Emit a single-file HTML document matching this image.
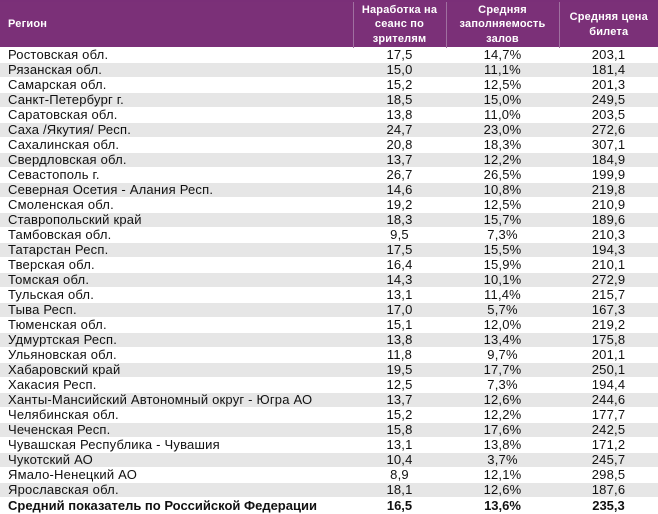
<!DOCTYPE html>
<html><head><meta charset="utf-8"><style>
html,body{margin:0;padding:0;background:#fff;width:658px;height:513px;overflow:hidden}
body{font-family:"Liberation Sans","DejaVu Sans",sans-serif;font-size:13px;letter-spacing:0.2px;color:#111}
.top{position:absolute;left:0;top:0;width:658px;height:2px;background:#7a2f78}
table{position:absolute;left:0;top:2px;width:658px;border-collapse:collapse;table-layout:fixed}
th{background:#7b3078;color:#fff;font-weight:bold;font-size:11px;letter-spacing:0.2px;line-height:14.5px;height:45px;padding:0;border-left:1px solid #a070a0;text-align:center}
th:first-child{text-align:left;padding-left:8px;border-left:none}
td{height:14px;line-height:14px;padding:0;text-align:center;border-top:1px solid #fff;overflow:hidden}
td:first-child{text-align:left;padding-left:8px;white-space:nowrap}
tr:nth-child(even) td{background:#e6e6e6}
tr.last td{font-weight:bold;background:#fff;height:16px;letter-spacing:0}
</style></head><body><div class="top"></div>
<table>
<colgroup><col style="width:353px"><col style="width:93px"><col style="width:113px"><col style="width:99px"></colgroup>
<thead><tr><th>Регион</th><th>Наработка на<br>сеанс по<br>зрителям</th><th>Средняя<br>заполняемость<br>залов</th><th>Средняя цена<br>билета</th></tr></thead>
<tbody>
<tr><td>Ростовская обл.</td><td>17,5</td><td>14,7%</td><td>203,1</td></tr>
<tr><td>Рязанская обл.</td><td>15,0</td><td>11,1%</td><td>181,4</td></tr>
<tr><td>Самарская обл.</td><td>15,2</td><td>12,5%</td><td>201,3</td></tr>
<tr><td>Санкт-Петербург г.</td><td>18,5</td><td>15,0%</td><td>249,5</td></tr>
<tr><td>Саратовская обл.</td><td>13,8</td><td>11,0%</td><td>203,5</td></tr>
<tr><td>Саха /Якутия/ Респ.</td><td>24,7</td><td>23,0%</td><td>272,6</td></tr>
<tr><td>Сахалинская обл.</td><td>20,8</td><td>18,3%</td><td>307,1</td></tr>
<tr><td>Свердловская обл.</td><td>13,7</td><td>12,2%</td><td>184,9</td></tr>
<tr><td>Севастополь г.</td><td>26,7</td><td>26,5%</td><td>199,9</td></tr>
<tr><td>Северная Осетия - Алания Респ.</td><td>14,6</td><td>10,8%</td><td>219,8</td></tr>
<tr><td>Смоленская обл.</td><td>19,2</td><td>12,5%</td><td>210,9</td></tr>
<tr><td>Ставропольский край</td><td>18,3</td><td>15,7%</td><td>189,6</td></tr>
<tr><td>Тамбовская обл.</td><td>9,5</td><td>7,3%</td><td>210,3</td></tr>
<tr><td>Татарстан Респ.</td><td>17,5</td><td>15,5%</td><td>194,3</td></tr>
<tr><td>Тверская обл.</td><td>16,4</td><td>15,9%</td><td>210,1</td></tr>
<tr><td>Томская обл.</td><td>14,3</td><td>10,1%</td><td>272,9</td></tr>
<tr><td>Тульская обл.</td><td>13,1</td><td>11,4%</td><td>215,7</td></tr>
<tr><td>Тыва Респ.</td><td>17,0</td><td>5,7%</td><td>167,3</td></tr>
<tr><td>Тюменская обл.</td><td>15,1</td><td>12,0%</td><td>219,2</td></tr>
<tr><td>Удмуртская Респ.</td><td>13,8</td><td>13,4%</td><td>175,8</td></tr>
<tr><td>Ульяновская обл.</td><td>11,8</td><td>9,7%</td><td>201,1</td></tr>
<tr><td>Хабаровский край</td><td>19,5</td><td>17,7%</td><td>250,1</td></tr>
<tr><td>Хакасия Респ.</td><td>12,5</td><td>7,3%</td><td>194,4</td></tr>
<tr><td>Ханты-Мансийский Автономный округ - Югра АО</td><td>13,7</td><td>12,6%</td><td>244,6</td></tr>
<tr><td>Челябинская обл.</td><td>15,2</td><td>12,2%</td><td>177,7</td></tr>
<tr><td>Чеченская Респ.</td><td>15,8</td><td>17,6%</td><td>242,5</td></tr>
<tr><td>Чувашская Республика - Чувашия</td><td>13,1</td><td>13,8%</td><td>171,2</td></tr>
<tr><td>Чукотский АО</td><td>10,4</td><td>3,7%</td><td>245,7</td></tr>
<tr><td>Ямало-Ненецкий АО</td><td>8,9</td><td>12,1%</td><td>298,5</td></tr>
<tr><td>Ярославская обл.</td><td>18,1</td><td>12,6%</td><td>187,6</td></tr>
<tr class="last"><td>Средний показатель по Российской Федерации</td><td>16,5</td><td>13,6%</td><td>235,3</td></tr>
</tbody></table>
</body></html>
